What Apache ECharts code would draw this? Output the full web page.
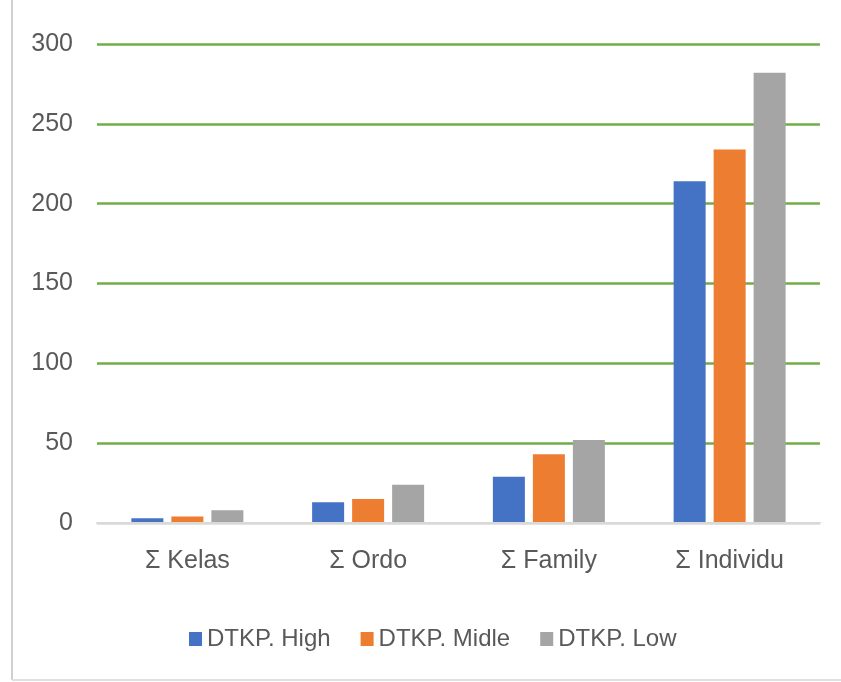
<!DOCTYPE html>
<html>
<head>
<meta charset="utf-8">
<script src="https://cdn.jsdelivr.net/npm/echarts@6/dist/echarts.min.js"></script>
<style>
  html, body { margin: 0; padding: 0; background: #fff; }
  #chart { width: 841px; height: 682px; }
</style>
</head>
<body>
<div id="chart"></div>
<script>
var categories = ['Σ Kelas', 'Σ Ordo', 'Σ Family', 'Σ Individu'];
var seriesNames = ['DTKP. High', 'DTKP. Midle', 'DTKP. Low'];
var highData = [3, 13, 29, 214];
var midleData = [4, 15, 43, 234];
var lowData = [8, 24, 52, 282];
var colors = ['#4472C4', '#ED7D31', '#A5A5A5'];

var font = '"Liberation Sans", sans-serif';
var green = '#70AD47';

var chart = echarts.init(document.getElementById('chart'));

var option = {
  animation: false,
  color: colors,
  textStyle: { fontFamily: font },
  grid: {
    left: 97,
    right: 21,
    top: 44,
    bottom: 159
  },
  legend: {
    left: 184,
    top: 622,
    itemWidth: 13,
    itemHeight: 14,
    itemGap: 30,
    icon: 'rect',
    textStyle: { fontFamily: font, fontSize: 24, color: '#595959' },
    data: seriesNames
  },
  xAxis: {
    type: 'category',
    z: 3,
    data: categories,
    axisLine: { lineStyle: { color: '#d9d9d9', width: 2 } },
    axisTick: { show: false },
    axisLabel: { fontFamily: font, fontSize: 25, color: '#595959', margin: 26 }
  },
  yAxis: {
    type: 'value',
    min: 0,
    max: 300,
    interval: 50,
    axisLine: { show: false },
    axisTick: { show: false },
    axisLabel: { fontFamily: font, fontSize: 25, color: '#595959', margin: 24 },
    // first split line (value 0) sits under the grey axis line
    splitLine: { lineStyle: { color: ['#d9d9d9', green, green, green, green, green, green], width: 2.5 } }
  },
  series: [
    { name: seriesNames[0], type: 'bar', data: highData, barWidth: 32, barGap: '25%' },
    { name: seriesNames[1], type: 'bar', data: midleData, barWidth: 32, barGap: '25%' },
    { name: seriesNames[2], type: 'bar', data: lowData, barWidth: 32, barGap: '25%' }
  ],
  graphic: [
    { type: 'line', shape: { x1: 12, y1: 0, x2: 12, y2: 680 }, style: { stroke: '#d0d0d0', lineWidth: 2 } },
    { type: 'line', shape: { x1: 12, y1: 680, x2: 841, y2: 680 }, style: { stroke: '#e0e0e0', lineWidth: 2 } }
  ]
};

chart.setOption(option);
</script>
</body>
</html>
